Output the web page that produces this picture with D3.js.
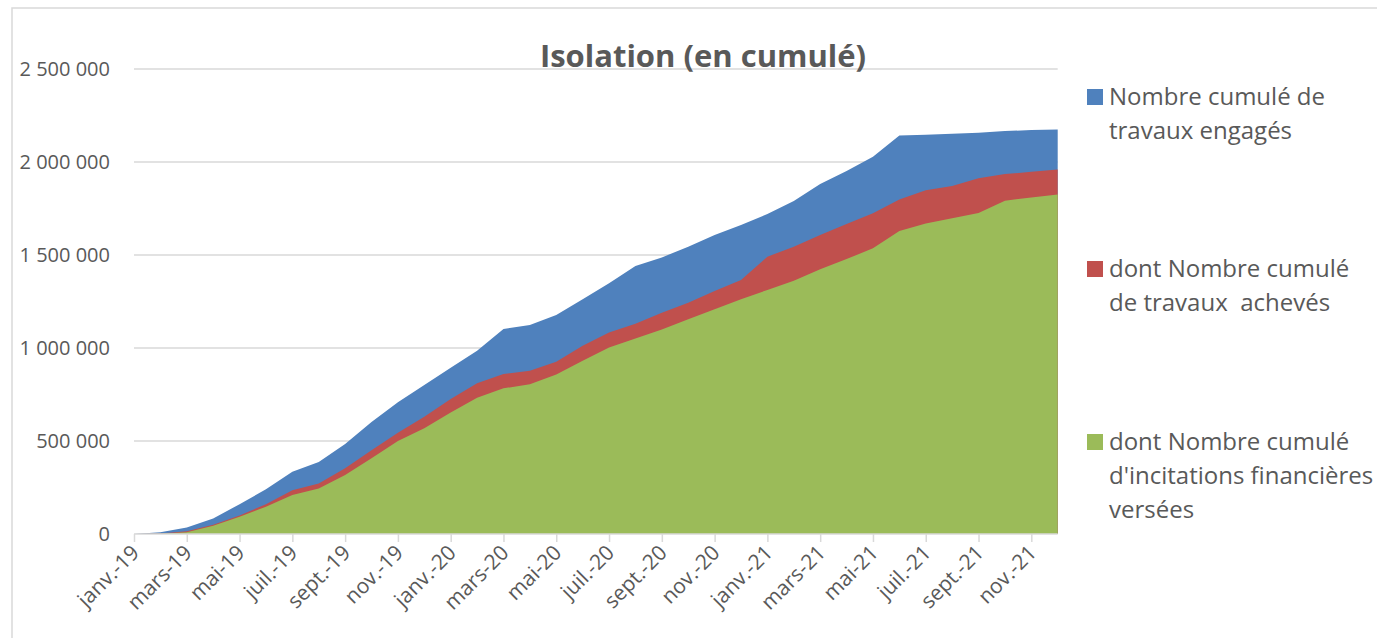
<!DOCTYPE html>
<html>
<head>
<meta charset="utf-8">
<script src="https://cdn.jsdelivr.net/npm/d3@7"></script>
<style>
  body { margin: 0; background: #fff; }
  svg text { font-family: "Open Sans", sans-serif; fill: #595959; }
</style>
</head>
<body>
<svg id="chart" width="1377" height="638"></svg>
<script>
// months jan 2019 -> dec 2021
const months = ["janv.-19","févr.-19","mars-19","avr.-19","mai-19","juin-19","juil.-19","août-19","sept.-19","oct.-19","nov.-19","déc.-19",
  "janv.-20","févr.-20","mars-20","avr.-20","mai-20","juin-20","juil.-20","août-20","sept.-20","oct.-20","nov.-20","déc.-20",
  "janv.-21","févr.-21","mars-21","avr.-21","mai-21","juin-21","juil.-21","août-21","sept.-21","oct.-21","nov.-21","déc.-21"];

const engages = [0,10000,35000,84000,160000,240000,335000,387000,484000,602000,708000,801000,
  894000,985000,1102000,1123000,1177000,1262000,1348000,1441000,1487000,1544000,1607000,1661000,
  1720000,1790000,1882000,1952000,2028000,2142000,2146000,2152000,2157000,2166000,2172000,2175000];

const acheves = [0,3000,15000,50000,100000,160000,235000,272000,353000,450000,545000,631000,
  726000,810000,860000,878000,926000,1012000,1083000,1131000,1190000,1243000,1306000,1365000,
  1491000,1544000,1607000,1667000,1724000,1799000,1848000,1871000,1912000,1935000,1947000,1960000];

const versees = [0,2000,10000,45000,93000,147000,210000,245000,317000,407000,500000,568000,
  653000,733000,783000,805000,858000,932000,1003000,1051000,1100000,1154000,1208000,1262000,
  1312000,1362000,1423000,1478000,1536000,1629000,1670000,1697000,1726000,1792000,1809000,1825000];

const yTicks = [0,500000,1000000,1500000,2000000,2500000];

const seriesNames = [
  ["Nombre cumulé de","travaux engagés"],
  ["dont Nombre cumulé","de travaux  achevés"],
  ["dont Nombre cumulé","d'incitations financières","versées"]
];
const colors = ["#4F81BD","#C0504D","#9BBB59"];

const svg = d3.select("#chart");

// chart frame
svg.append("path")
  .attr("d","M12,640 L12,8 L1380,8")
  .attr("fill","none")
  .attr("stroke","#d9d9d9")
  .attr("stroke-width",1.5);

const x = d3.scalePoint().domain(months).range([134,1057.7]);
const y = d3.scaleLinear().domain([0,2500000]).range([534,69]);

const fr = d3.formatLocale({decimal:",",thousands:" ",grouping:[3],currency:["","€"]});
const fmt = fr.format(",d");

// gridlines
svg.append("g").selectAll("line")
  .data(yTicks.slice(1))
  .join("line")
    .attr("x1",x.range()[0]).attr("x2",x.range()[1])
    .attr("y1",d=>y(d)).attr("y2",d=>y(d))
    .attr("stroke","#d9d9d9").attr("stroke-width",1.5);

// areas (overlapping, not stacked)
const data = [engages,acheves,versees];
const area = d3.area()
  .x((d,i)=>x(months[i]))
  .y0(y(0))
  .y1(d=>y(d));
svg.append("g").selectAll("path")
  .data(data)
  .join("path")
    .attr("fill",(d,i)=>colors[i])
    .attr("d",area);

// y axis labels
svg.append("g").selectAll("text")
  .data(yTicks)
  .join("text")
    .attr("x",110)
    .attr("y",d=>y(d)+7)
    .attr("text-anchor","end")
    .style("font-size","20px")
    .text(d=>fmt(d));

// x axis
const xAxis = d3.axisBottom(x)
  .tickValues(months.filter((m,i)=>i%2==0))
  .tickSize(8)
  .tickSizeOuter(0);
const gx = svg.append("g")
  .attr("transform","translate(0,"+y(0)+")")
  .call(xAxis);
gx.select(".domain").attr("stroke","#d9d9d9").attr("stroke-width",1.5)
  .attr("d","M"+x.range()[0]+",0H"+x.range()[1]);
gx.selectAll(".tick line").attr("stroke","#d9d9d9").attr("stroke-width",1.5);
gx.selectAll(".tick text")
  .attr("fill","#595959")
  .style("font-size","21px")
  .style("font-family","'Open Sans', sans-serif")
  .attr("text-anchor","end")
  .attr("dy",null)
  .attr("y",0)
  .attr("transform","translate(6,20) rotate(-45)");

// title
svg.append("text")
  .attr("x",703)
  .attr("y",67)
  .attr("text-anchor","middle")
  .style("font-size","31px")
  .style("font-weight","bold")
  .text("Isolation (en cumulé)");

// legend
const legendTops = [89,261,434];
const legend = svg.append("g").selectAll("g")
  .data(seriesNames)
  .join("g")
    .attr("transform",(d,i)=>"translate(1087,"+legendTops[i]+")");
legend.append("rect")
  .attr("width",16).attr("height",16)
  .attr("fill",(d,i)=>colors[i]);
legend.append("text")
  .style("font-size","24px")
  .selectAll("tspan")
  .data(d=>d)
  .join("tspan")
    .attr("x",22)
    .attr("y",(d,i)=>16+i*34)
    .style("white-space","pre")
    .text(d=>d);
</script>
</body>
</html>
